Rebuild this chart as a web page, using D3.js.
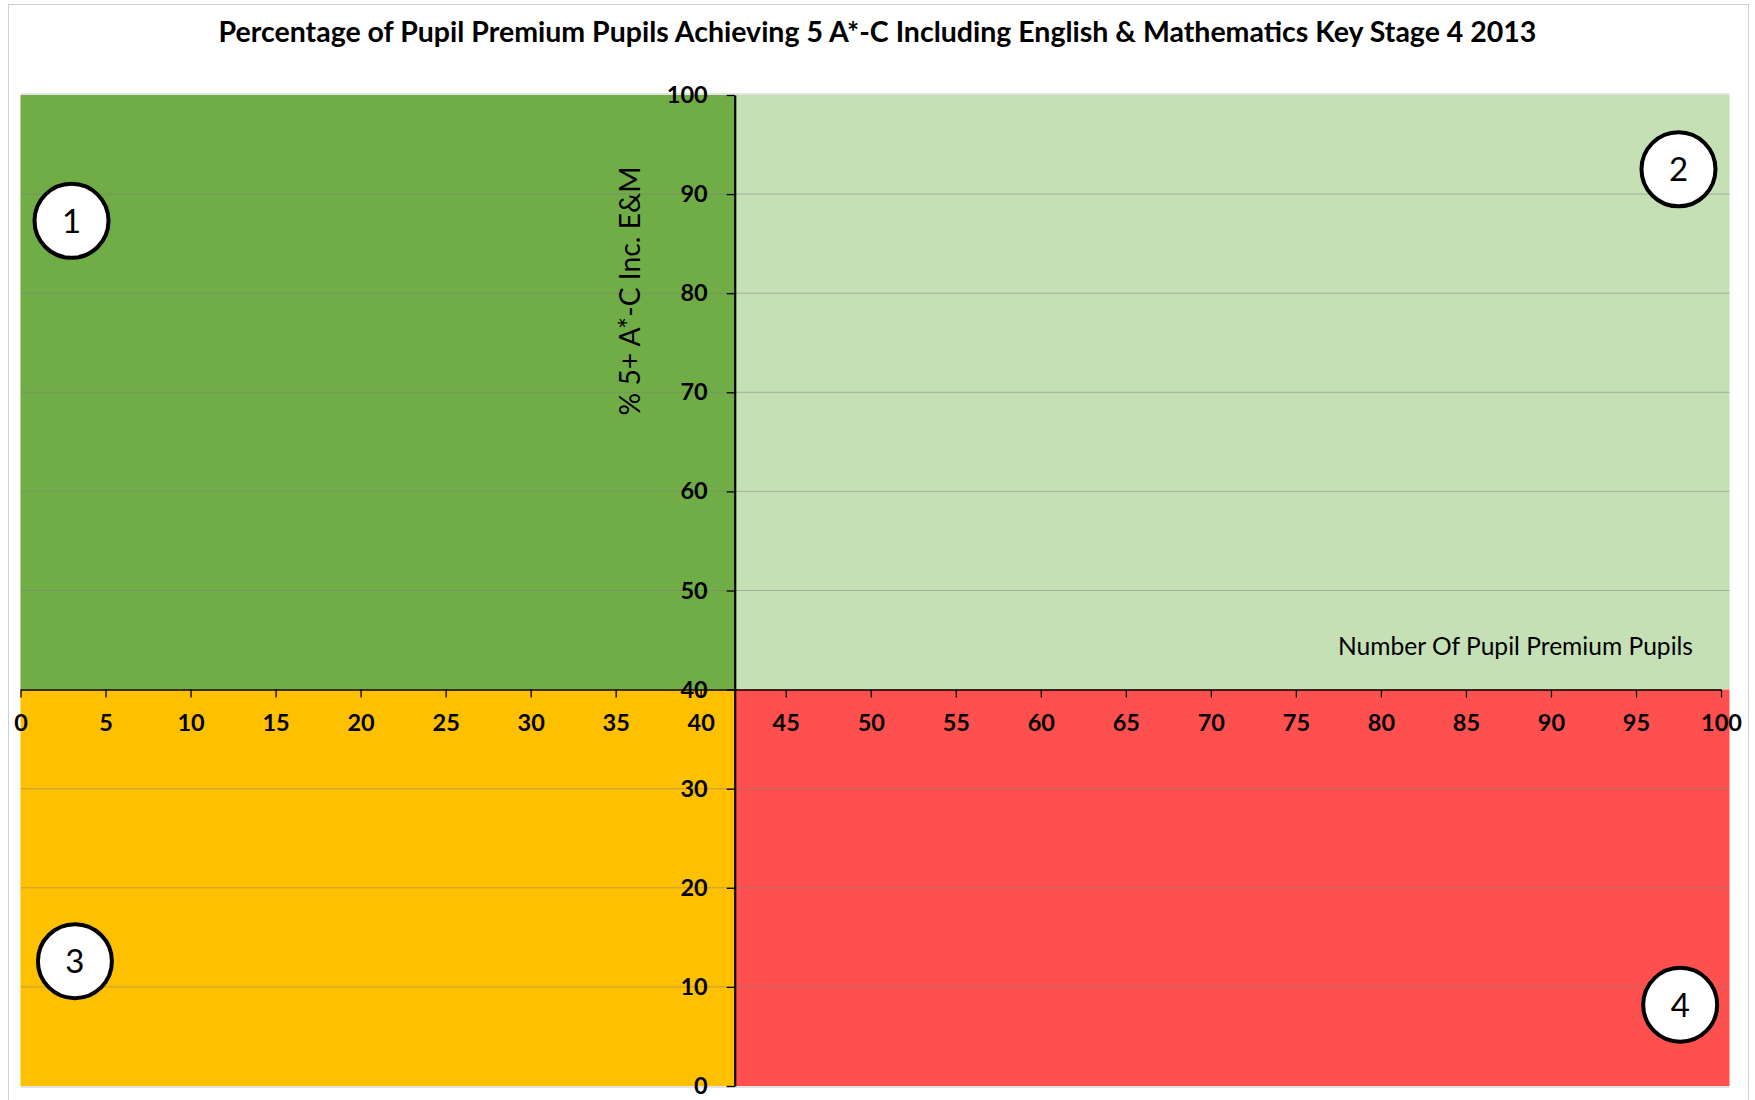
<!DOCTYPE html>
<html>
<head>
<meta charset="utf-8">
<script src="https://cdn.jsdelivr.net/npm/d3@7"></script>
<style>
  body { margin: 0; background: #fff; }
  text { font-family: Lato, "Open Sans", sans-serif; }
  .axis text { font-weight: bold; font-size: 23.5px; fill: #000; }
  .axis path, .axis line { stroke: #000; }
</style>
</head>
<body>
<svg id="chart"></svg>
<script>
// ---- data ----
const chartTitle = 'Percentage of Pupil Premium Pupils Achieving 5 A*-C Including English & Mathematics Key Stage 4 2013';
const xTitle = 'Number Of Pupil Premium Pupils';
const yTitle = '% 5+ A*-C Inc. E&M';

const xTicks = [0, 5, 10, 15, 20, 25, 30, 35, 40, 45, 50, 55, 60, 65, 70, 75, 80, 85, 90, 95, 100];
const yTicks = [0, 10, 20, 30, 40, 50, 60, 70, 80, 90, 100];

// where the axes cross (data units)
const xCross = 42;
const yCross = 40;
const xMax = 100.5;   // plot area runs a little past the last tick

// quadrant bounds in data units
const quadrantIds = [1, 2, 3, 4];
const quadrantX0 = [0, xCross, 0, xCross];
const quadrantX1 = [xCross, xMax, xCross, xMax];
const quadrantY0 = [yCross, yCross, 0, 0];
const quadrantY1 = [100, 100, yCross, yCross];

// numbered markers (data units)
const markerLabels = ['1', '2', '3', '4'];
const markerX = [3.0, 97.5, 3.2, 97.6];
const markerY = [87.3, 92.5, 12.6, 8.2];

const quadrantColors = ['#70AD47', '#C5E0B4', '#FFC000', '#FF5050'];

// ---- layout ----
const width = 1755, height = 1100;
const plot = {left: 20.5, right: 1721, top: 95, bottom: 1086};

const svg = d3.select('#chart')
    .attr('width', width)
    .attr('height', height);

// chart border
svg.append('rect')
    .attr('x', 8.5).attr('y', 4.5)
    .attr('width', 1740).attr('height', 1110)
    .attr('fill', '#fff')
    .attr('stroke', '#d0d0d0');

const xScale = d3.scaleLinear().domain([0, 100]).range([plot.left, plot.right]);
const yScale = d3.scaleLinear().domain([0, 100]).range([plot.bottom, plot.top]);

// quadrants
const quads = quadrantIds.map((id, i) => ({
  id, x0: quadrantX0[i], x1: quadrantX1[i], y0: quadrantY0[i], y1: quadrantY1[i]
}));

svg.append('g').selectAll('rect')
    .data(quads)
  .join('rect')
    .attr('x', d => xScale(d.x0))
    .attr('y', d => yScale(d.y1))
    .attr('width', d => xScale(d.x1) - xScale(d.x0))
    .attr('height', d => yScale(d.y0) - yScale(d.y1))
    .attr('fill', (d, i) => quadrantColors[i]);

// horizontal gridlines
svg.append('g').selectAll('line')
    .data(yTicks.filter(d => d !== 0 && d !== yCross && d !== 100))
  .join('line')
    .attr('x1', xScale(0))
    .attr('x2', xScale(xMax))
    .attr('y1', d => yScale(d))
    .attr('y2', d => yScale(d))
    .attr('stroke', '#7f7f7f')
    .attr('stroke-opacity', 0.5)
    .attr('stroke-width', 1);

// plot area top and bottom edges
svg.append('line')
    .attr('x1', xScale(0)).attr('x2', xScale(xMax))
    .attr('y1', yScale(100) - 1).attr('y2', yScale(100) - 1)
    .attr('stroke', '#c8c8c8');
svg.append('line')
    .attr('x1', xScale(0)).attr('x2', xScale(xMax))
    .attr('y1', yScale(0) + 1).attr('y2', yScale(0) + 1)
    .attr('stroke', '#c8c8c8');

// axes
const xAxis = d3.axisBottom(xScale)
    .tickValues(xTicks)
    .tickSize(8)
    .tickPadding(17)
    .tickSizeOuter(0);

const yAxis = d3.axisLeft(yScale)
    .tickValues(yTicks)
    .tickSize(8)
    .tickPadding(19)
    .tickSizeOuter(0);

const xAxisG = svg.append('g')
    .attr('class', 'axis x-axis')
    .attr('transform', `translate(0,${yScale(yCross)})`)
    .call(xAxis);
xAxisG.select('.domain').attr('stroke-width', 1.5);
xAxisG.selectAll('.tick line').attr('stroke-width', 1.3);

const yAxisG = svg.append('g')
    .attr('class', 'axis y-axis')
    .attr('transform', `translate(${xScale(xCross)},0)`)
    .call(yAxis);
yAxisG.select('.domain').attr('stroke', '#2f3a2a').attr('stroke-width', 2.2);
yAxisG.selectAll('.tick line').attr('stroke-width', 1.3);

// titles
svg.append('text')
    .attr('x', width / 2)
    .attr('y', 42)
    .attr('text-anchor', 'middle')
    .style('font-size', '28.5px')
    .style('font-weight', 'bold')
    .text(chartTitle);

svg.append('text')
    .attr('x', 1693)
    .attr('y', 655)
    .attr('text-anchor', 'end')
    .style('font-size', '24.6px')
    .text(xTitle);

svg.append('text')
    .attr('transform', 'translate(640,291) rotate(-90)')
    .attr('text-anchor', 'middle')
    .style('font-size', '28.3px')
    .text(yTitle);

// numbered markers
const markers = svg.append('g').selectAll('g')
    .data(markerLabels.map((l, i) => ({label: l, x: markerX[i], y: markerY[i]})))
  .join('g')
    .attr('transform', d => `translate(${xScale(d.x)},${yScale(d.y)})`);

markers.append('circle')
    .attr('r', 37)
    .attr('fill', '#fff')
    .attr('stroke', '#000')
    .attr('stroke-width', 4);

markers.append('text')
    .attr('text-anchor', 'middle')
    .attr('dy', '0.36em')
    .style('font-size', '33px')
    .text(d => d.label);
</script>
</body>
</html>
